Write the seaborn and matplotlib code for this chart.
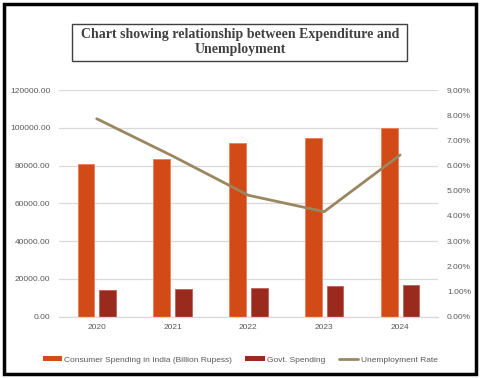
import numpy as np
import pandas as pd
import matplotlib
matplotlib.use("Agg")
import matplotlib.pyplot as plt
import seaborn as sns
from matplotlib.patches import Rectangle, Patch
from matplotlib.lines import Line2D
from matplotlib.ticker import FuncFormatter, MultipleLocator

# --- Data ---
years = ["2020", "2021", "2022", "2023", "2024"]
consumer_spending = [81000, 83500, 92000, 94700, 100000]
govt_spending = [14000, 14400, 15000, 16300, 16700]
unemployment_rate = [7.86, 6.38, 4.82, 4.17, 6.42]

series_names = ["Consumer Spending in India (Billion Rupess)", "Govt. Spending"]
line_name = "Unemployment Rate"

# --- Colours ---
C_CONSUMER = "#D24A16"
C_GOVT = "#9A2A1E"
C_LINE = "#9B875F"
C_TEXT = "#595959"
C_GRID = "#D9D9D9"

bars = pd.DataFrame({
    "year": years * 2,
    "value": consumer_spending + govt_spending,
    "series": [series_names[0]] * len(years) + [series_names[1]] * len(years),
})

sns.set_style("white")
plt.rcParams["font.family"] = ["Liberation Sans", "DejaVu Sans"]

fig = plt.figure(figsize=(4.8, 3.78), dpi=100)
ax = fig.add_axes([0.1225, 0.1622, 0.79, 0.5997])

sns.barplot(
    data=bars, x="year", y="value", hue="series",
    palette=[C_CONSUMER, C_GOVT], saturation=1, width=0.57, gap=0.23,
    edgecolor="#E8805A", linewidth=0.6, ax=ax, legend=False,
)
# slightly lighter outline on the govt bars, like the Excel original
for p in ax.patches[len(years):]:
    p.set_edgecolor("#C0605A")

ax.set_ylim(0, 120000)
ax.yaxis.set_major_locator(MultipleLocator(20000))
ax.yaxis.set_major_formatter(FuncFormatter(lambda v, _: f"{v:.2f}"))
ax.grid(axis="y", color=C_GRID, linewidth=0.9)
ax.set_axisbelow(True)
ax.set_xlabel("")
ax.set_ylabel("")
for s in ["top", "right", "left"]:
    ax.spines[s].set_visible(False)
ax.spines["bottom"].set_color(C_GRID)
ax.spines["bottom"].set_linewidth(0.9)
ax.tick_params(axis="both", length=0, labelsize=6, colors=C_TEXT)
ax.tick_params(axis="y", pad=6)
ax.tick_params(axis="x", pad=5)

ax2 = ax.twinx()
sns.pointplot(
    x=years, y=unemployment_rate, color=C_LINE, markers="",
    linewidth=2, ax=ax2, errorbar=None,
)
ax2.set_ylim(0, 9)
ax2.yaxis.set_major_locator(MultipleLocator(1))
ax2.yaxis.set_major_formatter(FuncFormatter(lambda v, _: f"{v:.2f}%"))
for s in ax2.spines.values():
    s.set_visible(False)
ax2.tick_params(axis="y", length=0, labelsize=6, colors=C_TEXT, pad=6.5)
ax2.set_xlim(ax.get_xlim())

# legend below the plot
handles = [
    Patch(facecolor=C_CONSUMER, edgecolor="none"),
    Patch(facecolor=C_GOVT, edgecolor="none"),
    Line2D([0], [0], color=C_LINE, linewidth=2),
]
leg = fig.legend(
    handles, series_names + [line_name], loc="center",
    bbox_to_anchor=(0.5, 0.048), ncol=3, frameon=False, fontsize=6,
    handlelength=2.3, handleheight=0.5, handletextpad=0.3, columnspacing=1.6,
)
for t in leg.get_texts():
    t.set_color(C_TEXT)

# title in a box
fig.text(
    0.5, 0.889, "Chart showing relationship between Expenditure and\nUnemployment",
    ha="center", va="center", fontsize=10, fontweight="bold",
    family=["Liberation Serif", "DejaVu Serif"], color="#404040", linespacing=1.2,
)
fig.patches.append(Rectangle(
    (72 / 480, 1 - 61 / 378), (407 - 72) / 480, (61 - 24) / 378,
    transform=fig.transFigure, fill=False, edgecolor="#404040", linewidth=1.0,
))

# outer border
fig.patches.append(Rectangle(
    (4 / 480, 4 / 378), 472 / 480, 370 / 378,
    transform=fig.transFigure, fill=False, edgecolor="black", linewidth=2.5,
))

fig.savefig("out.png", dpi=100)
